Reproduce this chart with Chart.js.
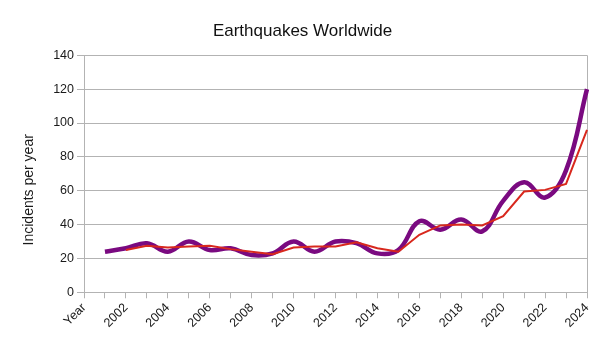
<!DOCTYPE html>
<html>
<head>
<meta charset="utf-8">
<title>Earthquakes Worldwide</title>
<script src="https://cdn.jsdelivr.net/npm/chart.js@4.4.1/dist/chart.umd.min.js"></script>
<style>
  html, body { margin: 0; padding: 0; background: #fff; }
  canvas { display: block; }
</style>
</head>
<body>
<canvas id="quakeChart" width="605" height="340"></canvas>
<script>
// categories (first slot is the header cell of the sheet column)
const years = ['Year', '2001', '2002', '2003', '2004', '2005', '2006', '2007', '2008',
    '2009', '2010', '2011', '2012', '2013', '2014', '2015', '2016', '2017', '2018',
    '2019', '2020', '2021', '2022', '2023', '2024'];

// incidents per year
const quakes = [null, 24, 26, 29, 24, 30, 25, 26, 22, 23, 30, 24, 30, 29, 23, 25,
    42, 37, 43, 36, 54, 65, 56, 72, 120];

// 2-period moving average trend line
const trend = [null, null, 25, 27.5, 26.5, 27, 27.5, 25.5, 24, 22.5, 26.5, 27, 27,
    29.5, 26, 24, 34, 39.5, 40, 39.5, 45, 59.5, 60.5, 64, 96];

const yMin = 0;
const yMax = 140;
const yStep = 20;

const FONT = '"Liberation Sans", Arial, sans-serif';
const GRID = '#b3b3b3';

// main title over the full page width and the vertical axis title,
// centred on the whole diagram like the spreadsheet does
const titles = {
    id: 'titles',
    afterDraw(chart) {
        const ctx = chart.ctx;
        const area = chart.chartArea;
        ctx.save();
        ctx.fillStyle = '#111';
        ctx.textAlign = 'center';
        ctx.textBaseline = 'middle';
        ctx.font = '17px ' + FONT;
        ctx.fillText('Earthquakes Worldwide', chart.width / 2, 31);

        ctx.fillStyle = '#1a1a1a';
        ctx.translate(29.5, (area.top + area.bottom) / 2 + 16);
        ctx.rotate(-Math.PI / 2);
        ctx.font = '14px ' + FONT;
        ctx.fillText('Incidents per year', 0, 0);
        ctx.restore();
    }
};

const ctx = document.getElementById('quakeChart');
new Chart(ctx, {
    type: 'line',
    data: {
        labels: years,
        datasets: [
            {
                label: 'Trend',
                data: trend,
                borderColor: '#d8281d',
                borderWidth: 2,
                pointRadius: 0,
                tension: 0,
                fill: false
            },
            {
                label: 'Earthquakes',
                data: quakes,
                borderColor: '#7a0a80',
                borderWidth: 4.5,
                pointRadius: 0,
                tension: 0.4,
                fill: false
            }
        ]
    },
    options: {
        responsive: false,
        animation: false,
        layout: { padding: { left: 0, right: 18, top: 55.3, bottom: 0 } },
        plugins: {
            legend: { display: false },
            tooltip: { enabled: false },
            title: { display: false }
        },
        scales: {
            x: {
                offset: false,
                afterFit: (scale) => { scale.height = 47.7; },
                grid: {
                    // only the right frame line is drawn inside the plot
                    color: (c) => c.index === years.length - 1 ? GRID : 'rgba(0,0,0,0)',
                    tickColor: GRID,
                    tickLength: 6,
                    drawOnChartArea: true
                },
                border: { color: GRID },
                ticks: {
                    autoSkip: false,
                    maxRotation: 45,
                    minRotation: 45,
                    padding: 2,
                    color: '#1a1a1a',
                    font: { family: FONT, size: 12.5 },
                    callback: (val, i) => i % 2 === 0 ? years[i] : ''
                }
            },
            y: {
                min: yMin,
                max: yMax,
                afterFit: (scale) => { scale.width = 84; },
                grid: { color: GRID, tickLength: 7 },
                border: { color: GRID },
                ticks: {
                    stepSize: yStep,
                    padding: 3,
                    color: '#1a1a1a',
                    font: { family: FONT, size: 12.5 }
                }
            }
        }
    },
    plugins: [titles]
});
</script>
</body>
</html>
